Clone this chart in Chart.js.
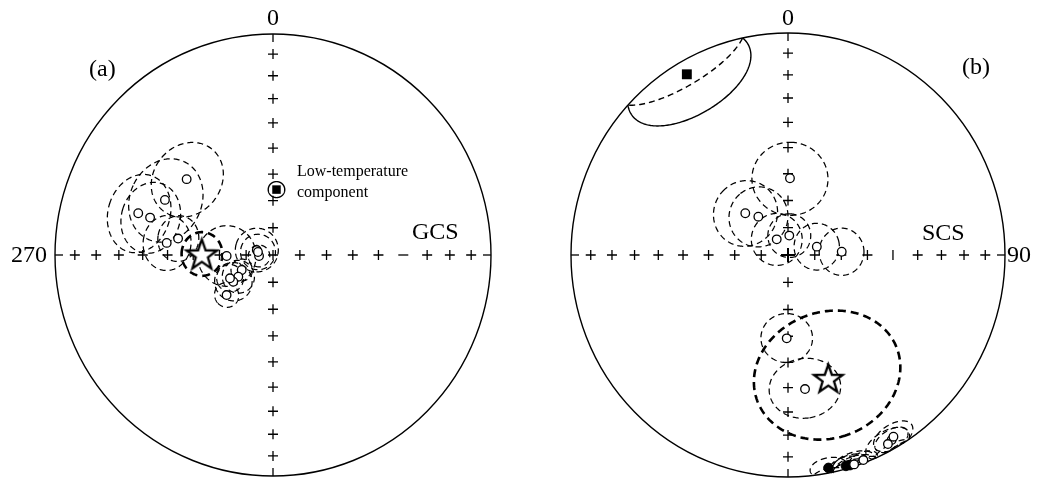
<!DOCTYPE html>
<html>
<head>
<meta charset="utf-8">
<script src="https://cdn.jsdelivr.net/npm/chart.js@4.4.1/dist/chart.umd.min.js"></script>
<style>
  html, body { margin: 0; padding: 0; background: #fff; }
  #wrap { position: relative; width: 1044px; height: 481px; }
  #wrap canvas { position: absolute; top: 0; }
</style>
</head>
<body>
<div id="wrap">
  <canvas id="gcs" width="522" height="481" style="left:0px"></canvas>
  <canvas id="scs" width="522" height="481" style="left:522px"></canvas>
</div>
<script>
// ---- Site-mean directions, geographic coordinates (declination, inclination, alpha95) ----
const gcsDec = [310.9, 296.7, 287.0, 286.7, 276.4, 279.7, 268.8, 266.0, 286.8, 281.2, 244.7, 238.3, 236.4, 241.9, 229.6];
const gcsInc = [-46.5, -43.8, -35.6, -40.8, -49.4, -53.6, -72.7, -84.8, -83.7, -84.3, -77.1, -74.8, -72.2, -71.8, -67.2];
const gcsA95 = [13.5, 14.5, 13.0, 12.0, 9.5, 8.0, 11.0, 4.0, 8.0, 6.5, 4.0, 6.0, 7.0, 5.0, 4.5];
const gcsMean = [270.8, -63.3, 7.8];      // dec, inc, a95
const gcsLowT = [3.1, 65.8, 3.0];         // low-temperature component

// ---- Site-mean directions, stratigraphic coordinates ----
const scsDec = [1.5, 313.7, 321.6, 323.6, 3.9, 74.2, 86.6, 180.9, 172.6, 169.0, 164.3, 163.2, 162.1, 159.4, 150.2, 149.3, 151.6];
const scsInc = [-61.7, -67.8, -72.1, -82.9, -82.9, -78.8, -69.8, -59.2, -39.0, 2.6, 1.5, 1.3, -1.0, -1.5, -4.4, -5.4, -3.6];
const scsA95 = [13.8, 12.0, 11.0, 9.5, 8.0, 8.5, 8.5, 9.3, 12.1, 5.0, 4.5, 5.0, 6.0, 4.0, 5.0, 6.0, 6.5];
const scsMean = [161.5, -41.1, 25.5];
const scsLowT = [330.2, 6.9, 19.0];

// ---- Net graticule: inclination ticks along the four cardinal axes ----
const tickIncs = [10, 20, 30, 40, 50, 60, 70, 80];
const axisDecs = [0, 90, 180, 270];
const gcsAxisLabels = ['0', '270'];
const scsAxisLabels = ['0', '90'];
const gcsTitles = ['(a)', 'GCS'];
const scsTitles = ['(b)', 'SCS'];
const lowTNote = ['Low-temperature', 'component'];

const D2R = Math.PI / 180;

// Lambert equal-area (Schmidt) projection; upper-hemisphere points plotted at |inc|
function project(dec, inc) {
  const th = (90 - Math.abs(inc)) * D2R;
  const r = Math.SQRT2 * Math.sin(th / 2);
  return { x: r * Math.sin(dec * D2R), y: r * Math.cos(dec * D2R), inc: inc };
}

// Small circle of radius a95 around a direction, as projected points
function coneOutline(dec, inc, a95) {
  const D = dec * D2R, I = inc * D2R, a = a95 * D2R;
  const c = [Math.cos(I) * Math.cos(D), Math.cos(I) * Math.sin(D), Math.sin(I)];
  const u = [-Math.sin(I) * Math.cos(D), -Math.sin(I) * Math.sin(D), Math.cos(I)];
  const v = [-Math.sin(D), Math.cos(D), 0];
  const out = [];
  const n = 240;
  for (let k = 0; k <= n; k++) {
    const t = 2 * Math.PI * k / n;
    const p = [0, 1, 2].map(j => Math.cos(a) * c[j] + Math.sin(a) * (Math.cos(t) * u[j] + Math.sin(t) * v[j]));
    const pi = Math.asin(Math.max(-1, Math.min(1, p[2]))) / D2R;
    const pd = Math.atan2(p[1], p[0]) / D2R;
    out.push(project(pd, pi));
  }
  return out;
}

function starSprite(outer, lw) {
  const inner = outer * 0.40;
  const s = Math.ceil(outer * 2 + lw * 2 + 4);
  const c = document.createElement('canvas');
  c.width = s; c.height = s;
  const g = c.getContext('2d');
  g.translate(s / 2, s / 2 + outer * 0.09);
  g.beginPath();
  for (let k = 0; k < 10; k++) {
    const r = (k % 2) ? inner : outer;
    const ang = -Math.PI / 2 + k * Math.PI / 5;
    g.lineTo(r * Math.cos(ang), r * Math.sin(ang));
  }
  g.closePath();
  g.fillStyle = '#fff';
  g.fill();
  g.lineWidth = lw;
  g.lineJoin = 'miter';
  g.strokeStyle = '#000';
  g.stroke();
  return c;
}

function netPlugin(net) {
  return {
    id: 'net_' + net.id,
    beforeDatasetsDraw(chart) {
      const { ctx } = chart;
      const xs = chart.scales.x, ys = chart.scales.y;
      const cx = xs.getPixelForValue(0), cy = ys.getPixelForValue(0);
      const rx = xs.getPixelForValue(1) - cx, ry = cy - ys.getPixelForValue(1);
      ctx.save();
      ctx.strokeStyle = '#000';
      ctx.lineWidth = 1.4;
      ctx.setLineDash([]);
      ctx.beginPath();
      ctx.ellipse(cx, cy, rx, ry, 0, 0, 2 * Math.PI);
      ctx.stroke();

      for (const cn of net.cones) {
        const path = coneOutline(cn.dec, cn.inc, cn.a95).map(p => ({
          px: xs.getPixelForValue(p.x), py: ys.getPixelForValue(p.y), inc: p.inc
        }));
        const dashedSeg = k => cn.allDashed || (path[k].inc + path[k + 1].inc) / 2 < 0;
        ctx.lineWidth = cn.width;
        let k = 0;
        while (k < path.length - 1) {
          const st = dashedSeg(k);
          let j = k;
          while (j < path.length - 1 && dashedSeg(j) === st) j++;
          ctx.setLineDash(st ? cn.dash : []);
          ctx.beginPath();
          ctx.moveTo(path[k].px, path[k].py);
          for (let m = k + 1; m <= j; m++) ctx.lineTo(path[m].px, path[m].py);
          ctx.stroke();
          k = j;
        }
      }
      ctx.restore();
    },
    afterDraw(chart) {
      const { ctx } = chart;
      const xs = chart.scales.x;
      ctx.save();
      ctx.fillStyle = '#000';
      for (const t of net.texts) {
        ctx.font = t.size + 'px "Liberation Serif", "Times New Roman", serif';
        ctx.textAlign = t.align;
        ctx.textBaseline = 'alphabetic';
        const px = (t.ux !== undefined) ? xs.getPixelForValue(t.ux) : t.px;
        ctx.fillText(t.text, px, t.py);
      }
      ctx.restore();
    }
  };
}

function buildNet(net) {
  // graticule crosses
  const tickPts = [], tickStyle = [], tickRot = [];
  for (const d of axisDecs) {
    for (const inc of tickIncs) {
      tickPts.push(project(d, inc));
      const br = net.broken.find(b => b.dec === d && b.inc === inc);
      tickStyle.push(br ? 'line' : 'cross');
      tickRot.push(br ? br.rot : 0);
    }
  }
  const edgePts = axisDecs.map(d => project(d, 0));
  const edgeRot = axisDecs.map(d => (d + 90) % 360);

  const open = [], filled = [];
  net.dec.forEach((d, i) => {
    const p = project(d, net.inc[i]);
    (net.inc[i] < 0 ? open : filled).push(p);
  });

  net.cones = [];
  net.dec.forEach((d, i) => net.cones.push({ dec: d, inc: net.inc[i], a95: net.a95[i], width: 1.25, dash: [6, 4], allDashed: true }));
  net.cones.push({ dec: net.mean[0], inc: net.mean[1], a95: net.mean[2], width: 2.6, dash: [8, 5], allDashed: true });
  net.cones.push({ dec: net.lowT[0], inc: net.lowT[1], a95: net.lowT[2], width: 1.4, dash: [6, 4], allDashed: false });

  const star = starSprite(net.starSize, 2.3);

  return new Chart(document.getElementById(net.id), {
    type: 'scatter',
    data: {
      datasets: [
        { label: 'mean', data: [project(net.mean[0], net.mean[1])], pointStyle: star, order: 0 },
        { label: 'low-T', data: [project(net.lowT[0], net.lowT[1])], pointStyle: 'rect', pointRadius: net.squareR,
          pointBackgroundColor: '#000', pointBorderColor: '#000', pointBorderWidth: 0, order: 1 },
        { label: 'upper', data: open, pointStyle: 'circle', pointRadius: 4.3,
          pointBackgroundColor: '#fff', pointBorderColor: '#000', pointBorderWidth: 1.3, order: 2 },
        { label: 'lower', data: filled, pointStyle: 'circle', pointRadius: 4.8,
          pointBackgroundColor: '#000', pointBorderColor: '#000', pointBorderWidth: 1, order: 3 },
        { label: 'centre', data: [project(0, 90)], pointStyle: 'cross', pointRadius: net.centre[0],
          pointBorderColor: '#000', pointBorderWidth: net.centre[1], order: 4 },
        { label: 'ticks', data: tickPts, pointStyle: tickStyle, rotation: tickRot, pointRadius: 5,
          pointBorderColor: '#000', pointBorderWidth: 1.3, order: 5 },
        { label: 'edge', data: edgePts, pointStyle: 'dash', rotation: edgeRot, pointRadius: 8,
          pointBorderColor: '#000', pointBorderWidth: 1.3, order: 6 }
      ]
    },
    options: {
      responsive: false,
      animation: false,
      events: [],
      layout: { padding: 0, autoPadding: false },
      plugins: { legend: { display: false }, tooltip: { enabled: false } },
      scales: {
        x: { type: 'linear', min: net.xr[0], max: net.xr[1], display: false },
        y: { type: 'linear', min: net.yr[0], max: net.yr[1], display: false }
      }
    },
    plugins: [netPlugin(net)]
  });
}

buildNet({
  id: 'gcs',
  dec: gcsDec, inc: gcsInc, a95: gcsA95, mean: gcsMean, lowT: gcsLowT,
  xr: [-1.2523, 1.1422], yr: [-1.0226, 1.1538],
  starSize: 16, squareR: 6.0, centre: [5, 1.3],
  broken: [{ dec: 90, inc: 40, rot: 0 }],
  texts: [
    { text: gcsAxisLabels[0], ux: 0, py: 25, size: 24, align: 'center' },
    { text: gcsAxisLabels[1], px: 47, py: 262, size: 24, align: 'right' },
    { text: gcsTitles[0], px: 89, py: 76, size: 24, align: 'left' },
    { text: gcsTitles[1], px: 412, py: 239, size: 24, align: 'left' },
    { text: lowTNote[0], px: 297, py: 176, size: 16, align: 'left' },
    { text: lowTNote[1], px: 297, py: 197, size: 16, align: 'left' }
  ]
});

buildNet({
  id: 'scs',
  dec: scsDec, inc: scsInc, a95: scsA95, mean: scsMean, lowT: scsLowT,
  xr: [-1.2258, 1.1797], yr: [-1.0180, 1.1486],
  starSize: 15, squareR: 7.0, centre: [7, 2],
  broken: [{ dec: 90, inc: 50, rot: 90 }],
  texts: [
    { text: scsAxisLabels[0], ux: 0, py: 25, size: 24, align: 'center' },
    { text: scsAxisLabels[1], px: 485, py: 262, size: 24, align: 'left' },
    { text: scsTitles[0], px: 440, py: 74, size: 24, align: 'left' },
    { text: scsTitles[1], px: 400, py: 240, size: 24, align: 'left' }
  ]
});
</script>
</body>
</html>
